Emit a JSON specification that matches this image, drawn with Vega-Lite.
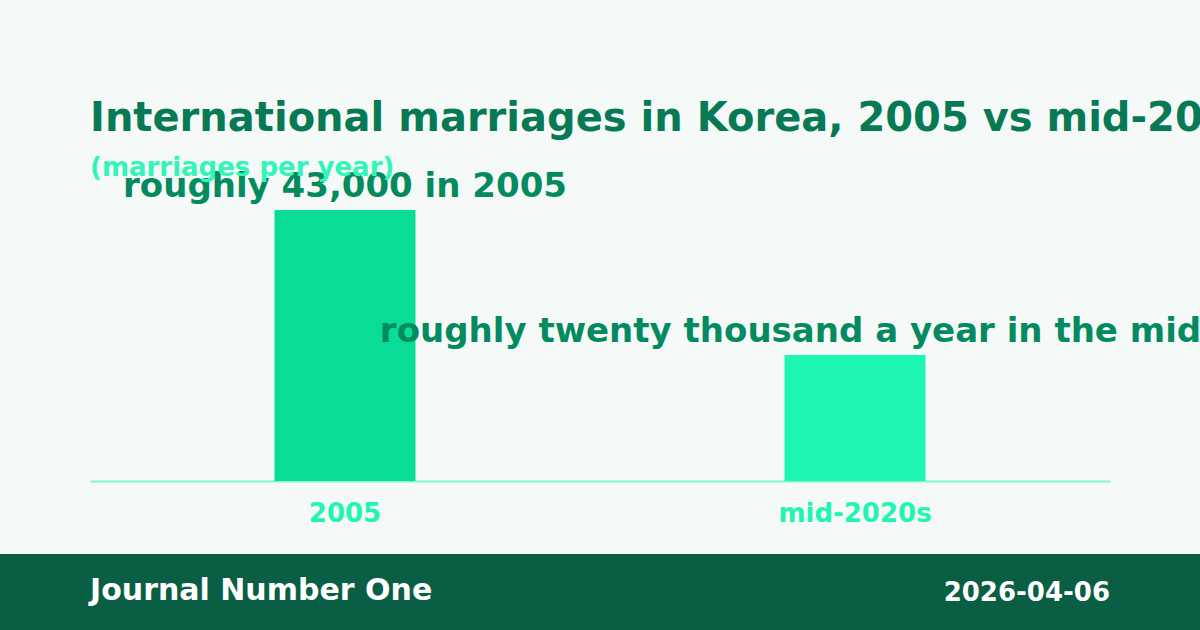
{
  "$schema": "https://vega.github.io/schema/vega-lite/v6.json",
  "autosize": {"type": "none"},
  "width": 1020,
  "height": 315,
  "padding": {"left": 90, "top": 166, "right": 90, "bottom": 149},
  "background": "#f5faf8",
  "title": {
    "text": "International marriages in Korea, 2005 vs mid-2020s",
    "subtitle": "(marriages per year)",
    "anchor": "start",
    "frame": "group",
    "offset": -15,
    "font": "DejaVu Sans",
    "fontSize": 40,
    "fontWeight": "bold",
    "color": "#077a55",
    "subtitleFont": "DejaVu Sans",
    "subtitleFontSize": 26,
    "subtitleFontWeight": "bold",
    "subtitleColor": "#33f5b8",
    "subtitlePadding": 16
  },
  "config": {"view": {"stroke": null}},
  "data": {
    "values": [
      {"period": "2005", "marriages": 43000, "label": "roughly 43,000 in 2005"},
      {"period": "mid-2020s", "marriages": 20000, "label": "roughly twenty thousand a year in the mid-2020s"}
    ]
  },
  "layer": [
    {
      "mark": {"type": "bar", "width": {"band": 0.2765}},
      "encoding": {
        "x": {
          "field": "period",
          "type": "nominal",
          "sort": null,
          "scale": {"paddingInner": 0, "paddingOuter": 0},
          "axis": {
            "title": null,
            "labelAngle": 0,
            "ticks": false,
            "domainColor": "#7ff5d0",
            "domainWidth": 2,
            "labelFont": "DejaVu Sans",
            "labelFontSize": 26,
            "labelFontWeight": "bold",
            "labelColor": "#22f5b2",
            "labelPadding": 19
          }
        },
        "y": {
          "field": "marriages",
          "type": "quantitative",
          "scale": {"domain": [0, 50000]},
          "axis": null
        },
        "color": {
          "field": "period",
          "type": "nominal",
          "scale": {"domain": ["2005", "mid-2020s"], "range": ["#08dc96", "#1ef7b2"]},
          "legend": null
        }
      }
    },
    {
      "mark": {
        "type": "text",
        "baseline": "alphabetic",
        "align": "center",
        "dy": -13,
        "font": "DejaVu Sans",
        "fontSize": 34,
        "fontWeight": "bold",
        "color": "#048a5f",
        "clip": false
      },
      "encoding": {
        "x": {"field": "period", "type": "nominal", "sort": null},
        "y": {"field": "marriages", "type": "quantitative"},
        "text": {"field": "label"}
      }
    },
    {
      "data": {"values": [{"brand": "Journal Number One", "date": "2026-04-06"}]},
      "layer": [
        {
          "mark": {"type": "rect", "color": "#0a5e44", "clip": false},
          "encoding": {
            "x": {"value": -90},
            "x2": {"value": 1110},
            "y": {"value": 388},
            "y2": {"value": 464}
          }
        },
        {
          "mark": {
            "type": "text",
            "align": "left",
            "baseline": "alphabetic",
            "font": "DejaVu Sans",
            "fontSize": 30,
            "fontWeight": "bold",
            "color": "#ffffff"
          },
          "encoding": {
            "x": {"value": 0},
            "y": {"value": 434},
            "text": {"field": "brand"}
          }
        },
        {
          "mark": {
            "type": "text",
            "align": "right",
            "baseline": "alphabetic",
            "font": "DejaVu Sans",
            "fontSize": 26,
            "fontWeight": "bold",
            "color": "#ffffff"
          },
          "encoding": {
            "x": {"value": 1020},
            "y": {"value": 435},
            "text": {"field": "date"}
          }
        }
      ]
    }
  ]
}
